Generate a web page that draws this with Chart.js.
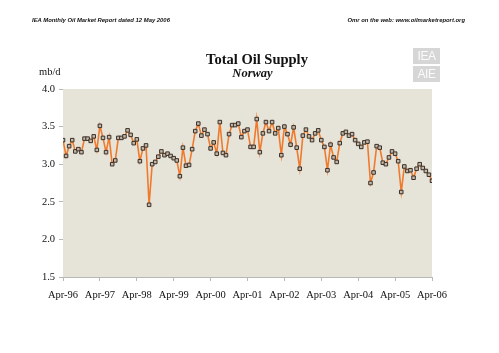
<!DOCTYPE html>
<html>
<head>
<meta charset="utf-8">
<script src="https://cdn.jsdelivr.net/npm/chart.js@4.4.0/dist/chart.umd.min.js"></script>
<style>
    html, body { margin: 0; padding: 0; background: #ffffff; }
    #wrap { position: relative; width: 499px; height: 353px; }
    #chart { position: absolute; left: 0; top: 0; }
    .txt { position: absolute; white-space: nowrap; }
    .hdr { font-family: "Liberation Sans", Arial, sans-serif; font-weight: bold; font-style: italic; font-size: 5.9px; top: 17px; color: #111; }
    .serif { font-family: "Liberation Serif", "Times New Roman", serif; color: #111; }
    #logo { position: absolute; left: 413px; top: 48px; width: 27px; }
    #logo div { background: #d6d6d6; color: #fbfbfb; font-family: "Liberation Sans", Arial, sans-serif; font-size: 12px; text-align: center; height: 16px; line-height: 16px; margin-bottom: 2px; letter-spacing: -0.5px; }
</style>
</head>
<body>
<div id="wrap">
    <canvas id="chart" width="499" height="353"></canvas>
    <div class="txt hdr" style="left:32px;">IEA Monthly Oil Market Report dated 12 May 2006</div>
    <div class="txt hdr" style="right:34px;">Omr on the web: www.oilmarketreport.org</div>
    <div class="txt serif" style="left:0; width:514px; text-align:center; top:51px; font-size:14.5px; font-weight:bold;">Total Oil Supply</div>
    <div class="txt serif" style="left:0; width:505px; text-align:center; top:66px; font-size:12.5px; font-weight:bold; font-style:italic;">Norway</div>
    <div class="txt serif" style="left:39px; top:66px; font-size:10.5px;">mb/d</div>
    <div id="logo"><div>IEA</div><div>AIE</div></div>
</div>
<script>
// monthly supply, Apr-96 .. Apr-06 (mb/d)
const supply = [
    3.32, 3.11, 3.24, 3.32, 3.17, 3.20, 3.16, 3.34, 3.34, 3.31, 3.37, 3.19,
    3.51, 3.35, 3.16, 3.36, 3.00, 3.05, 3.35, 3.35, 3.37, 3.45, 3.39, 3.28,
    3.33, 3.04, 3.21, 3.25, 2.46, 3.00, 3.03, 3.10, 3.17, 3.12, 3.14, 3.11,
    3.08, 3.05, 2.84, 3.22, 2.98, 2.99, 3.20, 3.44, 3.54, 3.38, 3.46, 3.40,
    3.21, 3.29, 3.14, 3.56, 3.15, 3.12, 3.40, 3.52, 3.52, 3.54, 3.36, 3.44,
    3.46, 3.23, 3.23, 3.60, 3.16, 3.41, 3.56, 3.44, 3.56, 3.41, 3.48, 3.12,
    3.50, 3.40, 3.26, 3.49, 3.22, 2.94, 3.38, 3.46, 3.37, 3.32, 3.41, 3.45,
    3.32, 3.23, 2.92, 3.26, 3.09, 3.03, 3.28, 3.41, 3.43, 3.38, 3.40, 3.32,
    3.27, 3.23, 3.29, 3.30, 2.75, 2.89, 3.24, 3.22, 3.02, 3.00, 3.09, 3.17,
    3.14, 3.04, 2.63, 2.97, 2.91, 2.92, 2.82, 2.94, 3.00, 2.95, 2.91, 2.86,
    2.78
];
const tickLabels = ['Apr-96', 'Apr-97', 'Apr-98', 'Apr-99', 'Apr-00', 'Apr-01',
    'Apr-02', 'Apr-03', 'Apr-04', 'Apr-05', 'Apr-06'];
const yTicks = [1.5, 2.0, 2.5, 3.0, 3.5, 4.0];

const points = supply.map((v, i) => ({ x: i, y: v }));

const plotBackground = {
    id: 'plotBackground',
    beforeDraw(chart) {
        const { ctx, chartArea } = chart;
        ctx.save();
        ctx.fillStyle = '#e6e4d8';
        ctx.fillRect(chartArea.left, chartArea.top, chartArea.right - chartArea.left, chartArea.bottom - chartArea.top);
        ctx.restore();
    }
};

const serif = { family: '"Liberation Serif", "Times New Roman", serif', size: 10.5 };

new Chart(document.getElementById('chart'), {
    type: 'line',
    data: {
        datasets: [{
            label: 'Norway',
            data: points,
            borderColor: '#f07a2c',
            borderWidth: 1.6,
            tension: 0,
            pointStyle: 'rect',
            pointRadius: 2.5,
            pointBorderWidth: 1,
            pointBorderColor: '#3a2f2a',
            pointBackgroundColor: '#c4b7a3'
        }]
    },
    options: {
        responsive: false,
        animation: false,
        layout: { padding: { left: 0, right: 67, top: 89, bottom: 46 } },
        scales: {
            x: {
                type: 'linear',
                min: 0,
                max: 120,
                afterBuildTicks: (scale) => {
                    scale.ticks = tickLabels.map((t, i) => ({ value: i * 12 }));
                },
                afterFit: (scale) => { scale.height = 30; },
                ticks: {
                    color: '#111',
                    font: serif,
                    padding: 8,
                    maxRotation: 0,
                    autoSkip: false,
                    callback: (value) => tickLabels[Math.round(value / 12)]
                },
                grid: { drawOnChartArea: false, tickLength: 4, color: '#b8b8b8' },
                border: { color: '#b8b8b8' }
            },
            y: {
                min: 1.5,
                max: 4.0,
                afterBuildTicks: (scale) => {
                    scale.ticks = yTicks.map(v => ({ value: v }));
                },
                afterFit: (scale) => { scale.width = 63; },
                ticks: {
                    color: '#111',
                    font: serif,
                    padding: 4,
                    callback: (value) => value.toFixed(1)
                },
                grid: { drawOnChartArea: false, tickLength: 4, color: '#b8b8b8' },
                border: { display: false }
            }
        },
        plugins: {
            legend: { display: false },
            tooltip: { enabled: false }
        }
    },
    plugins: [plotBackground]
});
</script>
</body>
</html>
